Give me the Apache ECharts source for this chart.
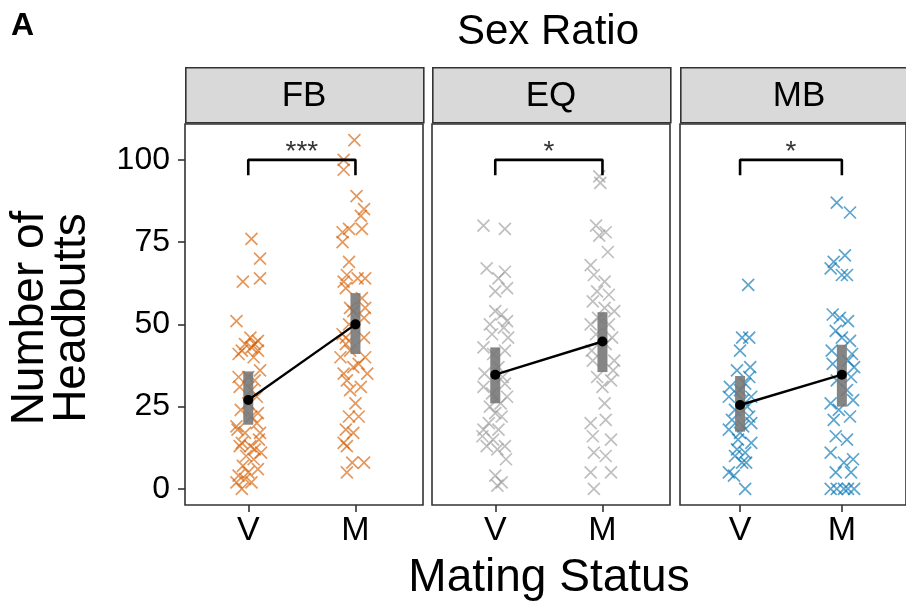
<!DOCTYPE html>
<html><head><meta charset="utf-8">
<script src="https://cdn.jsdelivr.net/npm/echarts@6/dist/echarts.min.js"></script>
<style>html,body{margin:0;padding:0;background:#fff}#c{width:906px;height:607px}</style>
</head><body><div id="c"></div>
<script>
// ---- data ----
const panels = ['FB', 'EQ', 'MB'];
const xLabels = ['V', 'M'];
const yTicks = [0, 25, 50, 75, 100];
const stars = ['***', '*', '*'];
// each point: [jitter (category units), headbutts]
const fbV = [[0.03,76],[0.11,70],[0.11,64],[-0.05,63],[-0.11,51],[0.02,46],[0.09,45],[0.06,44],[-0.03,44],[0.03,43],[-0.09,41],[-0.06,42],[0.09,42],[0.05,40],[0.11,36],[-0.09,34],[0,34],[0.06,33],[-0.08,31],[0.03,30],[0.08,28],[0,26],[-0.07,24],[0.09,23],[0.03,22],[0.08,20],[-0.11,19],[-0.1,18],[-0.03,17],[0.11,17],[0.1,15],[-0.06,14],[0.02,13],[-0.08,13],[0.06,12],[0.12,11],[-0.02,10],[0.05,9],[-0.05,7],[0.09,6],[0,5],[-0.09,4],[-0.03,3],[0.03,2],[-0.11,2],[-0.06,0]];
const fbM = [[-0.01,106],[-0.11,100],[-0.11,97],[0.01,89],[0.08,85],[0.05,83],[0.06,79],[-0.06,79],[-0.12,78],[-0.12,75],[-0.06,69],[-0.08,65],[0.09,64],[0.02,64],[-0.11,63],[-0.09,61],[0.06,58],[0.09,55],[-0.05,55],[-0.02,54],[0.08,52],[-0.06,50],[-0.12,47],[0.08,46],[-0.09,46],[-0.09,44],[-0.05,42],[0.09,40],[-0.14,40],[0.03,38],[-0.02,37],[-0.11,35],[0.11,35],[-0.08,33],[0.05,31],[-0.05,30],[0,26],[-0.06,22],[0.03,22],[-0.09,18],[-0.02,17],[-0.11,14],[-0.08,13],[-0.03,8],[0.08,8],[-0.08,5]];
const eqV = [[-0.11,80],[0.09,79],[-0.08,67],[0.09,66],[0.03,64],[0,60],[0.11,61],[0,54],[0.06,53],[0.11,51],[-0.05,50],[0.08,49],[-0.03,47],[0.12,46],[-0.11,43],[-0.02,41],[0.09,42],[0.03,37],[-0.1,35],[0.07,34],[-0.11,31],[0.09,32],[-0.03,29],[0.05,26],[0.11,28],[-0.05,25],[0,23],[-0.06,20],[0.06,22],[-0.11,18],[0.03,18],[-0.12,16],[-0.02,15],[-0.08,13],[0.09,13],[0.02,12],[0.1,9],[0,4],[0.06,2],[0.02,1]];
const eqM = [[-0.03,95],[-0.02,93],[-0.06,80],[0.03,78],[-0.03,77],[0.05,72],[-0.11,68],[-0.08,65],[0.02,63],[-0.05,60],[0.06,59],[-0.09,57],[0.11,54],[0.02,55],[-0.04,52],[-0.11,50],[0.06,50],[-0.06,47],[0.09,46],[0.03,44],[-0.1,42],[0.11,39],[-0.09,39],[0.1,36],[-0.05,34],[0.08,33],[0,31],[0.02,26],[-0.11,20],[0.03,21],[-0.09,16],[0.08,15],[-0.08,11],[0.03,10],[-0.11,5],[0.08,5],[-0.08,0]];
const mbV = [[0.08,62],[0.02,46],[0.09,46],[0,42],[0.1,37],[-0.03,36],[0.09,34],[0.05,32],[-0.1,31],[0,30],[-0.11,28],[0.11,28],[0.03,27],[0.07,25],[-0.05,24],[0.09,22],[-0.08,21],[0.11,20],[0.03,19],[-0.11,18],[0,17],[-0.02,15],[0.11,14],[-0.03,12],[0.05,11],[-0.05,10],[0.06,8],[0.02,8],[-0.11,5],[-0.06,4],[0.05,0]];
const mbM = [[-0.05,87],[0.08,84],[0.03,71],[-0.08,69],[-0.11,67],[0,65],[0.05,65],[-0.09,53],[-0.02,52],[0.06,51],[-0.06,48],[0,46],[0.08,45],[-0.1,42],[0.1,41],[0.06,39],[-0.09,38],[0.12,37],[0.09,34],[-0.05,33],[0.05,30],[0.11,27],[-0.11,26],[-0.03,24],[0.08,22],[-0.08,21],[-0.06,16],[0.05,15],[-0.11,11],[0.11,9],[0.02,8],[-0.06,5],[0.09,5],[-0.11,0],[-0.05,0],[0.02,0],[0.06,0],[0.12,0]];
// means and confidence intervals [V, M]
const means = [[27, 50], [34.7, 44.8], [25.5, 34.7]];
const ciLow = [[19.5, 41], [26, 35.5], [17.4, 25]];
const ciHigh = [[35.7, 59.5], [43, 53.7], [34.3, 43.8]];
const bracketTop = 100, bracketLeg = 95.3, starY = 102.3;

// ---- styling / layout ----
const groups = [[fbV, fbM], [eqV, eqM], [mbV, mbM]];
const colors = ['rgba(213,94,0,0.8)', 'rgba(155,155,155,0.8)', 'rgba(0,114,178,0.8)'];
const FONT = 'Liberation Sans, Arial, sans-serif';
const lefts = [185, 432, 680];
const W = 238, TOP = 124, H = 381;
const cross = 'path://M0,0L10,10M10,0L0,10';

const grids = [], xAxes = [], yAxes = [], series = [], graphics = [];
panels.forEach((p, i) => {
  grids.push({ left: lefts[i], top: TOP, width: W, height: H, show: true, borderColor: '#333', borderWidth: 1.6, backgroundColor: '#fff' });
  xAxes.push({ type: 'value', gridIndex: i, min: 0.41, max: 2.63, splitLine: { show: false }, axisLine: { show: false, onZero: false },
    axisTick: { show: true, customValues: [1, 2], length: 7, lineStyle: { color: '#333', width: 1.6 } },
    axisLabel: { customValues: [1, 2], formatter: v => xLabels[Math.round(v) - 1], fontSize: 34, color: '#000', fontFamily: FONT, margin: 9 } });
  yAxes.push({ type: 'value', gridIndex: i, min: -4.9, max: 110.9, splitLine: { show: false }, axisLine: { show: false, onZero: false },
    axisTick: { show: i === 0, customValues: yTicks, length: 7, lineStyle: { color: '#333', width: 1.6 } },
    axisLabel: { show: i === 0, customValues: yTicks, fontSize: 32, color: '#000', fontFamily: FONT, margin: 15 } });
  groups[i].forEach((pts, k) => {
    series.push({ type: 'scatter', xAxisIndex: i, yAxisIndex: i, symbol: cross, symbolSize: 12, z: 2,
      itemStyle: { color: 'transparent', borderColor: colors[i], borderWidth: 1.7 },
      data: pts.map(d => [k + 1 + d[0], d[1]]) });
  });
  series.push({ type: 'custom', xAxisIndex: i, yAxisIndex: i, z: 3,
    data: [[1, ciLow[i][0], ciHigh[i][0]], [2, ciLow[i][1], ciHigh[i][1]]],
    renderItem: (params, api) => {
      const a = api.coord([api.value(0), api.value(2)]);
      const b = api.coord([api.value(0), api.value(1)]);
      return { type: 'rect', shape: { x: a[0] - 5, y: a[1], width: 10, height: b[1] - a[1] }, style: { fill: 'rgba(120,120,120,0.9)' } };
    } });
  series.push({ type: 'line', xAxisIndex: i, yAxisIndex: i, z: 4, symbol: 'circle', symbolSize: 10,
    itemStyle: { color: '#000' }, lineStyle: { color: '#000', width: 2.4 },
    data: [[1, means[i][0]], [2, means[i][1]]] });
  series.push({ type: 'line', xAxisIndex: i, yAxisIndex: i, z: 4, symbol: 'none', lineStyle: { color: '#000', width: 2.6 },
    data: [[1, bracketLeg], [1, bracketTop], [2, bracketTop], [2, bracketLeg]] });
  series.push({ type: 'scatter', xAxisIndex: i, yAxisIndex: i, z: 4, symbolSize: 1, itemStyle: { color: 'transparent' },
    label: { show: true, position: 'inside', formatter: stars[i], fontSize: 28, color: '#000', fontFamily: FONT },
    data: [[1.5, starY]] });
  graphics.push({ type: 'rect', left: lefts[i], top: 67, shape: { width: W, height: 55 },
    style: { fill: '#D9D9D9', stroke: '#333', lineWidth: 1.6 } });
  graphics.push({ type: 'text', x: lefts[i] + W / 2, y: 96,
    style: { text: p, font: '35px ' + FONT, fill: '#000', textAlign: 'center', textVerticalAlign: 'middle' } });
});
graphics.push({ type: 'text', x: 11, y: 26, style: { text: 'A', font: 'bold 32px ' + FONT, fill: '#000', textVerticalAlign: 'middle' } });
graphics.push({ type: 'text', x: 548, y: 32, style: { text: 'Sex Ratio', font: '42px ' + FONT, fill: '#000', textAlign: 'center', textVerticalAlign: 'middle' } });
graphics.push({ type: 'text', x: 549, y: 578, style: { text: 'Mating Status', font: '46px ' + FONT, fill: '#000', textAlign: 'center', textVerticalAlign: 'middle' } });
graphics.push({ type: 'text', x: 51, y: 318, rotation: Math.PI / 2,
  style: { text: 'Number of\nHeadbutts', font: '46px ' + FONT, fill: '#000', textAlign: 'center', textVerticalAlign: 'middle', lineHeight: 42 } });

const chart = echarts.init(document.getElementById('c'), null, { renderer: 'canvas' });
chart.setOption({ animation: false, backgroundColor: '#fff', grid: grids, xAxis: xAxes, yAxis: yAxes, series: series, graphic: graphics });
</script></body></html>
